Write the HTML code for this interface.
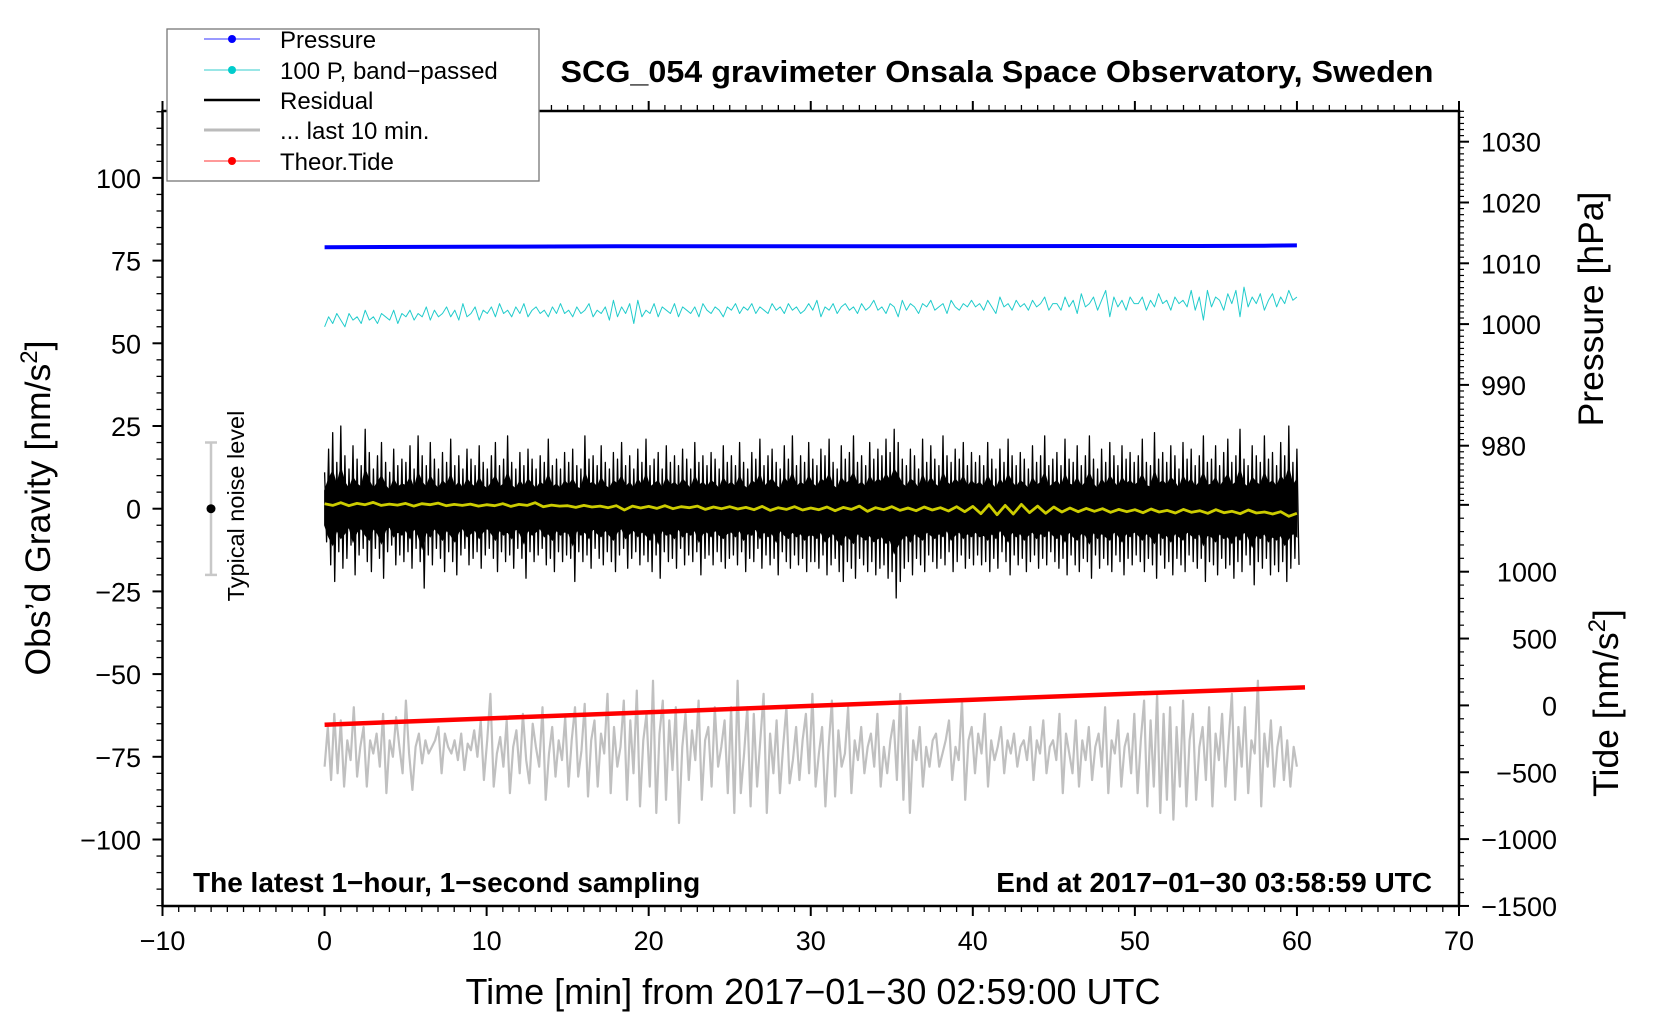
<!DOCTYPE html>
<html><head><meta charset="utf-8"><style>
html,body{margin:0;padding:0;background:#fff;}
svg{display:block;font-family:"Liberation Sans",Arial,sans-serif;}
</style></head>
<body>
<svg id="chart" width="1660" height="1020" viewBox="0 0 1660 1020" xmlns="http://www.w3.org/2000/svg">
<rect width="1660" height="1020" fill="#fff"/>
<g id="series"></g>
<g id="axes"></g>
<g id="legend">
 <rect x="167" y="29" width="372" height="152" fill="#fff" stroke="#777" stroke-width="1.3"/>
 <line x1="204" y1="39" x2="260" y2="39" stroke="#3333ff" stroke-width="1"/><circle cx="232" cy="39" r="4" fill="#0000ff"/>
 <text x="280" y="48" font-size="24">Pressure</text>
 <line x1="204" y1="70" x2="260" y2="70" stroke="#33cccc" stroke-width="1"/><circle cx="232" cy="70" r="4" fill="#00cccc"/>
 <text x="280" y="79" font-size="24">100 P, band−passed</text>
 <line x1="204" y1="100" x2="260" y2="100" stroke="#000" stroke-width="2.5"/>
 <text x="280" y="109" font-size="24">Residual</text>
 <line x1="204" y1="130" x2="260" y2="130" stroke="#bbb" stroke-width="3"/>
 <text x="280" y="139" font-size="24">... last 10 min.</text>
 <line x1="204" y1="161" x2="260" y2="161" stroke="#ff3333" stroke-width="1"/><circle cx="232" cy="161" r="4" fill="#ff0000"/>
 <text x="280" y="170" font-size="24">Theor.Tide</text>
</g>
<text x="997" y="82" font-size="31" font-weight="bold" text-anchor="middle" textLength="873" lengthAdjust="spacingAndGlyphs">SCG_054 gravimeter Onsala Space Observatory, Sweden</text>
<text x="193" y="892" font-size="28" font-weight="bold">The latest 1−hour, 1−second sampling</text>
<text x="1432" y="892" font-size="28" font-weight="bold" text-anchor="end">End at 2017−01−30 03:58:59 UTC</text>
<text x="813" y="1004" font-size="36" text-anchor="middle">Time [min] from 2017−01−30 02:59:00 UTC</text>
<text transform="translate(50,508) rotate(-90)" font-size="35.5" text-anchor="middle">Obs’d Gravity [nm/s<tspan font-size="24" dy="-13">2</tspan><tspan dy="13">]</tspan></text>
<text transform="translate(1603,309) rotate(-90)" font-size="35.5" text-anchor="middle">Pressure [hPa]</text>
<text transform="translate(1618,703) rotate(-90)" font-size="35.5" text-anchor="middle">Tide [nm/s<tspan font-size="24" dy="-13">2</tspan><tspan dy="13">]</tspan></text>
<g>
 <line x1="211" y1="442.5" x2="211" y2="574.9" stroke="#c8c8c8" stroke-width="2.5"/>
 <line x1="205" y1="442.5" x2="217" y2="442.5" stroke="#c8c8c8" stroke-width="2.5"/>
 <line x1="205" y1="574.9" x2="217" y2="574.9" stroke="#c8c8c8" stroke-width="2.5"/>
 <circle cx="211" cy="508.7" r="4.5" fill="#000"/>
 <text transform="translate(244,506) rotate(-90)" font-size="23.5" text-anchor="middle">Typical noise level</text>
</g>
</svg>
<script>
const xTicks=[-10,0,10,20,30,40,50,60,70];
const gravTicks=[-100,-75,-50,-25,0,25,50,75,100];
const presTicks=[980,990,1000,1010,1020,1030];
const tideTicks=[-1500,-1000,-500,0,500,1000];
const presTimes=[0,6,12,18,24,30,36,42,48,54,58,60];
const presVals=[1012.65,1012.7,1012.75,1012.8,1012.8,1012.82,1012.82,1012.83,1012.85,1012.85,1012.9,1012.95];
const tideTimes=[0,10,20,30,40,50,60.5];
const tideVals=[-144,-98,-51,-4,43,89,135];
const cyanVals=[55,58,56,59,57,55,59,57,58,56,60,57,58,56,59,58,57,60,56,59,
58,60,57,59,58,61,57,60,58,59,61,58,60,57,62,58,59,61,57,60,
59,61,58,62,59,60,58,61,59,62,58,60,61,59,60,58,61,59,62,59,
60,58,61,59,60,62,58,60,59,61,57,63,58,61,59,62,56,63,58,60,
59,62,58,61,60,59,62,58,61,60,59,61,58,62,60,59,61,60,58,61,
60,62,59,61,60,62,59,61,60,59,62,60,61,59,62,60,61,59,60,62,
60,63,58,61,60,62,59,61,62,60,61,59,62,60,61,63,60,61,59,62,
61,58,63,60,62,61,59,62,61,63,60,61,62,59,63,61,60,62,61,63,
61,62,60,63,61,59,64,61,62,60,63,61,62,60,63,61,62,64,60,62,
62,60,64,61,63,59,65,61,62,64,60,63,66,58,64,61,63,60,64,62,
62,64,60,63,61,65,62,63,60,64,62,63,61,66,60,64,57,66,61,64,
63,60,65,62,66,58,67,61,64,62,65,60,63,65,61,64,62,66,63,64];
const resHi=[11,18,23,14,25,16,12,19,15,13,24,17,12,16,20,14,11,18,13,15,
14,19,12,22,16,13,20,15,12,17,14,21,13,16,12,18,15,13,19,14,
12,16,20,13,15,22,14,12,17,13,18,15,12,16,14,21,13,15,12,17,
14,18,13,12,22,15,16,13,19,14,12,17,15,20,13,16,12,18,14,21,
13,15,17,12,19,14,16,13,18,15,12,20,14,16,13,17,15,12,19,14,
16,13,20,14,12,17,15,21,13,16,18,14,12,19,15,22,13,16,14,20,
15,13,18,16,21,14,12,19,15,17,22,14,16,13,20,15,18,16,21,17,
24,20,15,13,18,16,12,21,14,19,15,13,22,16,14,18,15,20,13,17,
14,16,13,20,15,12,18,14,21,16,13,17,15,12,19,14,16,22,13,15,
17,13,21,15,14,19,13,16,22,15,12,18,14,20,16,13,19,15,17,14,
16,21,14,13,23,15,17,14,19,16,12,20,15,18,13,16,22,14,15,19,
13,17,21,14,16,24,15,13,19,16,14,22,15,17,13,20,16,25,14,18];
const resLo=[-10,-17,-22,-13,-18,-15,-11,-20,-14,-12,-16,-19,-12,-15,-21,-13,-11,-17,-14,-16,
-13,-18,-12,-16,-24,-14,-17,-12,-15,-19,-13,-16,-20,-14,-12,-17,-15,-13,-18,-14,
-12,-15,-19,-13,-16,-14,-18,-12,-15,-21,-13,-16,-14,-12,-17,-15,-19,-13,-16,-14,
-15,-22,-13,-16,-14,-18,-12,-15,-17,-13,-16,-19,-14,-12,-18,-15,-13,-17,-14,-16,
-19,-14,-21,-13,-16,-15,-18,-12,-17,-14,-16,-13,-20,-15,-14,-17,-13,-16,-18,-15,
-14,-17,-13,-19,-15,-16,-12,-18,-14,-17,-15,-20,-13,-16,-18,-14,-17,-15,-19,-16,
-16,-18,-14,-20,-17,-15,-19,-22,-16,-18,-21,-15,-17,-19,-16,-20,-18,-17,-21,-19,
-27,-22,-18,-16,-20,-15,-17,-19,-14,-16,-18,-15,-17,-13,-19,-16,-14,-18,-15,-17,
-14,-17,-16,-19,-15,-18,-13,-16,-20,-14,-17,-15,-19,-16,-14,-18,-15,-17,-13,-16,
-18,-15,-20,-14,-17,-19,-15,-16,-21,-14,-18,-15,-17,-19,-14,-16,-20,-15,-17,-14,
-16,-19,-15,-17,-21,-14,-18,-16,-20,-15,-17,-19,-14,-16,-18,-15,-22,-16,-17,-20,
-15,-18,-17,-21,-16,-19,-14,-17,-23,-16,-18,-15,-20,-17,-19,-16,-22,-18,-15,-17];
const yellowVals=[1.5,1.0,1.8,0.9,1.6,1.2,1.9,1.0,1.4,1.1,1.6,0.8,1.5,1.2,1.7,0.9,1.3,1.0,1.4,0.8,
1.2,0.9,1.5,0.7,1.3,1.0,1.8,0.6,1.1,0.8,0.9,0.4,1.0,0.5,0.8,0.3,0.9,-0.4,0.8,0.2,
0.7,0.1,0.9,0.0,0.6,0.3,0.8,-0.2,0.5,0.0,0.6,-0.1,0.4,-0.3,0.7,-0.5,0.3,-0.2,0.6,-0.4,
0.2,-0.3,0.5,-0.6,0.4,-0.2,0.8,-0.8,0.3,-0.3,0.6,-0.5,0.2,-0.6,0.5,-0.4,0.3,-0.7,0.6,-0.9,
0.7,-1.5,1.2,-1.8,1.0,-1.6,1.3,-1.2,0.8,-1.4,0.5,-1.0,0.2,-0.9,0.1,-0.8,0.0,-1.1,-0.2,-0.9,
-0.3,-1.2,-0.1,-1.0,-0.5,-1.3,-0.2,-1.1,-0.6,-1.4,-0.3,-1.2,-0.8,-1.5,-0.4,-1.3,-1.0,-1.6,-0.9,-2.3,-1.4];
const grayVals=[-78,-66,-82,-62,-80,-64,-84,-70,-76,-60,-81,-72,-66,-84,-70,-74,-68,-78,-62,-86,-70,-75,-63,-72,-80,
-58,-74,-85,-72,-68,-77,-70,-74,-72,-70,-66,-80,-68,-72,-74,-70,-76,-68,-79,-71,-73,-67,-75,-64,-82,
-70,-56,-84,-74,-69,-78,-64,-86,-72,-67,-80,-62,-76,-83,-65,-72,-78,-60,-88,-74,-66,-81,-70,-76,-63,
-84,-70,-60,-81,-73,-59,-87,-70,-64,-84,-68,-74,-56,-86,-66,-78,-72,-58,-88,-64,-80,-55,-90,-70,-62,
-84,-52,-92,-68,-58,-88,-64,-79,-60,-95,-72,-62,-82,-67,-76,-58,-88,-70,-66,-84,-60,-78,-72,-64,-86,
-60,-92,-52,-86,-74,-60,-90,-62,-84,-70,-56,-92,-68,-80,-64,-86,-72,-60,-83,-76,-66,-82,-70,-62,-80,
-56,-84,-74,-66,-90,-72,-58,-87,-67,-78,-74,-60,-86,-70,-76,-66,-80,-72,-68,-78,-62,-84,-72,-80,-70,
-64,-82,-56,-88,-60,-92,-70,-76,-66,-84,-72,-78,-70,-68,-78,-74,-70,-64,-82,-72,-76,-58,-88,-70,-66,
-80,-68,-74,-62,-84,-70,-76,-72,-66,-80,-70,-74,-68,-78,-72,-70,-76,-66,-82,-70,-74,-64,-80,-72,-70,
-76,-62,-86,-68,-74,-80,-64,-84,-70,-76,-66,-82,-72,-68,-78,-60,-86,-70,-74,-64,-84,-72,-68,-80,-62,
-86,-70,-58,-90,-64,-84,-56,-92,-62,-88,-60,-94,-66,-84,-58,-90,-70,-62,-88,-72,-66,-82,-60,-90,-68,
-76,-62,-84,-70,-56,-88,-66,-78,-60,-86,-70,-74,-52,-90,-68,-78,-64,-84,-72,-66,-82,-70,-84,-72,-78];

const NS='http://www.w3.org/2000/svg';
const L=162.5,R=1459,T=111,B=906;
function xs(t){return L+(t+10)*(R-L)/80;}
function yG(v){return 508.7-v*3.308;}
function yP(p){return 445.7-(p-980)*6.08;}
function yT(v){return 705.4-v*0.1337;}
const sG=document.getElementById('series'),aG=document.getElementById('axes');
function mk(tag,attrs,parent){const e=document.createElementNS(NS,tag);for(const k in attrs)e.setAttribute(k,attrs[k]);parent.appendChild(e);return e;}
function ptsStr(pts){return pts.map(p=>p[0].toFixed(1)+','+p[1].toFixed(1)).join(' ');}
function poly(pts,stroke,w,name){
  const e=mk('polyline',{points:ptsStr(pts),fill:'none',stroke:stroke,'stroke-width':w,'stroke-linejoin':'round'},sG);
  
  
  return e;
}
// pressure
poly(presTimes.map((t,i)=>[xs(t),yP(presVals[i])]),'#0000ff',4,'pressure-line');
// cyan band-passed
poly(cyanVals.map((v,i)=>[xs(i*60/(cyanVals.length-1)),yG(v)]),'#22cccc',1,'bandpassed-pressure-line');
// residual: dense core band + zigzag
{const n=resHi.length;const dt=60/(n-1);
 const top=[],bot=[];
 for(let i=0;i<n;i++){top.push([xs(i*dt),yG(resHi[i]*0.5)]);bot.unshift([xs(i*dt),yG(resLo[i]*0.5)]);}
 const core=mk('polygon',{points:ptsStr(top.concat(bot)),fill:'#000',stroke:'#000','stroke-width':1},sG);
 
 
 const pts=[];
 for(let i=0;i<n;i++){pts.push([xs(i*dt),yG(resHi[i])]);pts.push([xs(i*dt+dt/2),yG(resLo[i])]);}
 poly(pts,'#000',1.3,'residual-line');}
// yellow moving average
poly(yellowVals.map((v,i)=>[xs(i*60/(yellowVals.length-1)),yG(v)]),'#cccc00',2.8,'residual-smoothed-line');
// gray last 10 min
poly(grayVals.map((v,i)=>[xs(i*60/(grayVals.length-1)),yG(v)]),'#c0c0c0',2.2,'last-10-min-line');
// tide
poly(tideTimes.map((t,i)=>[xs(t),yT(tideVals[i])]),'#ff0000',4.5,'tide-line');

// frame
{const f=mk('rect',{x:L,y:T,width:R-L,height:B-T,fill:'none',stroke:'#000','stroke-width':2.5},aG);

}
function tick(x1,y1,x2,y2,w){mk('line',{x1:x1,y1:y1,x2:x2,y2:y2,stroke:'#000','stroke-width':w||1.5},aG);}
function label(x,y,txt,anchor,name){const e=mk('text',{x:x,y:y,'font-size':27,'text-anchor':anchor},aG);e.textContent=txt;
 
 }
// x ticks
for(let t=-10;t<=70;t++){const maj=t%10===0;const x=xs(t);
 tick(x,B,x,B+(maj?10:6),maj?2:1.3);tick(x,T,x,T-(maj?10:6),maj?2:1.3);}
xTicks.forEach(t=>label(xs(t),950,String(t).replace('-','−'),'middle','x-tick-label'));
// left ticks
for(let v=-120;v<=120;v+=5){const maj=v%25===0;const y=yG(v);tick(L,y,L-(maj?10:6),y,maj?2:1.3);}
gravTicks.forEach(v=>label(141,yG(v)+10,String(v).replace('-','−'),'end','gravity-tick-label'));
// pressure ticks
for(let p=971;p<=1035;p++){const maj=p%10===0;const y=yP(p);tick(R,y,R+(maj?10:5),y,maj?2:1.2);}
presTicks.forEach(p=>label(1481,yP(p)+10,String(p),'start','pressure-tick-label'));
// tide ticks
for(let v=-1500;v<=1500;v+=100){const maj=v%500===0;const y=yT(v);if(y<500)continue;tick(R,y,R+(maj?10:5),y,maj?2:1.2);}
tideTicks.forEach(v=>label(1557,yT(v)+10,String(v).replace('-','−'),'end','tide-tick-label'));
</script>
</body></html>
